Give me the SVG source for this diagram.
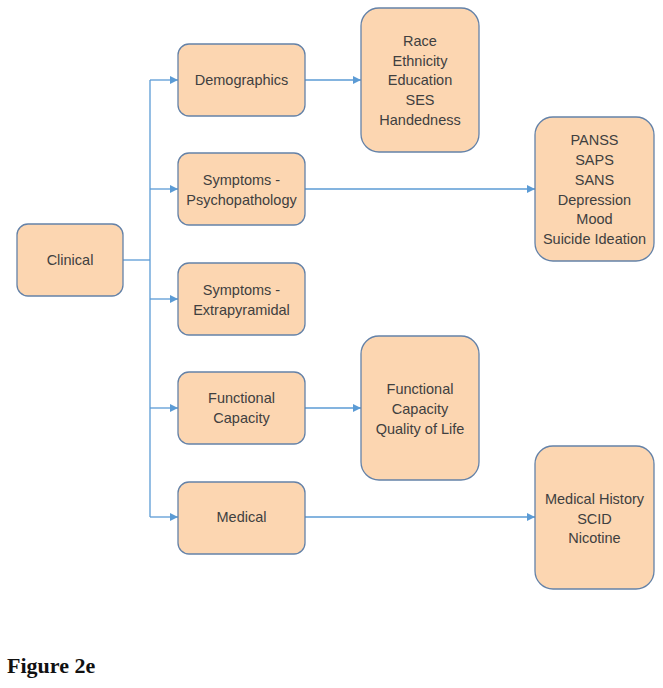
<svg xmlns="http://www.w3.org/2000/svg" width="663" height="688" viewBox="0 0 663 688">
<style>
.box{fill:#FCD6B1;stroke:#6482A8;stroke-width:1.3}
.t{font-family:"Liberation Sans",Arial,sans-serif;font-size:14.5px;fill:#404040;text-anchor:middle;dominant-baseline:central}
.c{fill:none;stroke:#5B9BD5;stroke-width:1.3}
.cap{font-family:"Liberation Serif","Times New Roman",serif;font-size:22px;font-weight:bold;fill:#111}
</style>
<defs>
<marker id="ah" viewBox="0 0 10 10" refX="10" refY="5" markerWidth="8" markerHeight="8" markerUnits="userSpaceOnUse" orient="auto">
<path d="M0,0 L10,5 L0,10 z" fill="#5B9BD5"/>
</marker>
</defs>
<rect width="663" height="688" fill="#fff"/>
<g id="connectors">
<path class="c" d="M123,260 H150"/>
<path class="c" d="M150,80 V517"/>
<path class="c" d="M150,80 H178" marker-end="url(#ah)"/>
<path class="c" d="M150,189 H178" marker-end="url(#ah)"/>
<path class="c" d="M150,299 H178" marker-end="url(#ah)"/>
<path class="c" d="M150,408 H178" marker-end="url(#ah)"/>
<path class="c" d="M150,517 H178" marker-end="url(#ah)"/>
<path class="c" d="M305,80 H361" marker-end="url(#ah)"/>
<path class="c" d="M305,189 H535" marker-end="url(#ah)"/>
<path class="c" d="M305,408 H361" marker-end="url(#ah)"/>
<path class="c" d="M305,517 H535" marker-end="url(#ah)"/>
</g>
<g id="clinical">
<rect class="box" x="17" y="224" width="106" height="72" rx="11"/>
<text class="t" x="70" y="260">Clinical</text>
</g>
<g id="demographics">
<rect class="box" x="178" y="44" width="127" height="72" rx="11"/>
<text class="t" x="241.5" y="80">Demographics</text>
</g>
<g id="psychopathology">
<rect class="box" x="178" y="153" width="127" height="72" rx="11"/>
<text class="t" x="241.5" y="180">Symptoms -</text>
<text class="t" x="241.5" y="200">Psychopathology</text>
</g>
<g id="extrapyramidal">
<rect class="box" x="178" y="263" width="127" height="72" rx="11"/>
<text class="t" x="241.5" y="290">Symptoms -</text>
<text class="t" x="241.5" y="310">Extrapyramidal</text>
</g>
<g id="functional">
<rect class="box" x="178" y="372" width="127" height="72" rx="11"/>
<text class="t" x="241.5" y="398">Functional</text>
<text class="t" x="241.5" y="418">Capacity</text>
</g>
<g id="medical">
<rect class="box" x="178" y="482" width="127" height="72" rx="11"/>
<text class="t" x="241.5" y="517">Medical</text>
</g>
<g id="demo-items">
<rect class="box" x="361" y="8" width="118" height="144" rx="18"/>
<text class="t" x="420" y="41">Race</text>
<text class="t" x="420" y="61">Ethnicity</text>
<text class="t" x="420" y="80">Education</text>
<text class="t" x="420" y="100">SES</text>
<text class="t" x="420" y="120">Handedness</text>
</g>
<g id="psych-items">
<rect class="box" x="535" y="117" width="119" height="144" rx="18"/>
<text class="t" x="594.5" y="140">PANSS</text>
<text class="t" x="594.5" y="160">SAPS</text>
<text class="t" x="594.5" y="180">SANS</text>
<text class="t" x="594.5" y="200">Depression</text>
<text class="t" x="594.5" y="219">Mood</text>
<text class="t" x="594.5" y="239">Suicide Ideation</text>
</g>
<g id="functional-items">
<rect class="box" x="361" y="336" width="118" height="144" rx="18"/>
<text class="t" x="420" y="389">Functional</text>
<text class="t" x="420" y="409">Capacity</text>
<text class="t" x="420" y="429">Quality of Life</text>
</g>
<g id="medical-items">
<rect class="box" x="535" y="446" width="119" height="143" rx="18"/>
<text class="t" x="594.5" y="499">Medical History</text>
<text class="t" x="594.5" y="519">SCID</text>
<text class="t" x="594.5" y="538">Nicotine</text>
</g>
<text class="cap" x="7" y="673">Figure 2e</text>
</svg>
